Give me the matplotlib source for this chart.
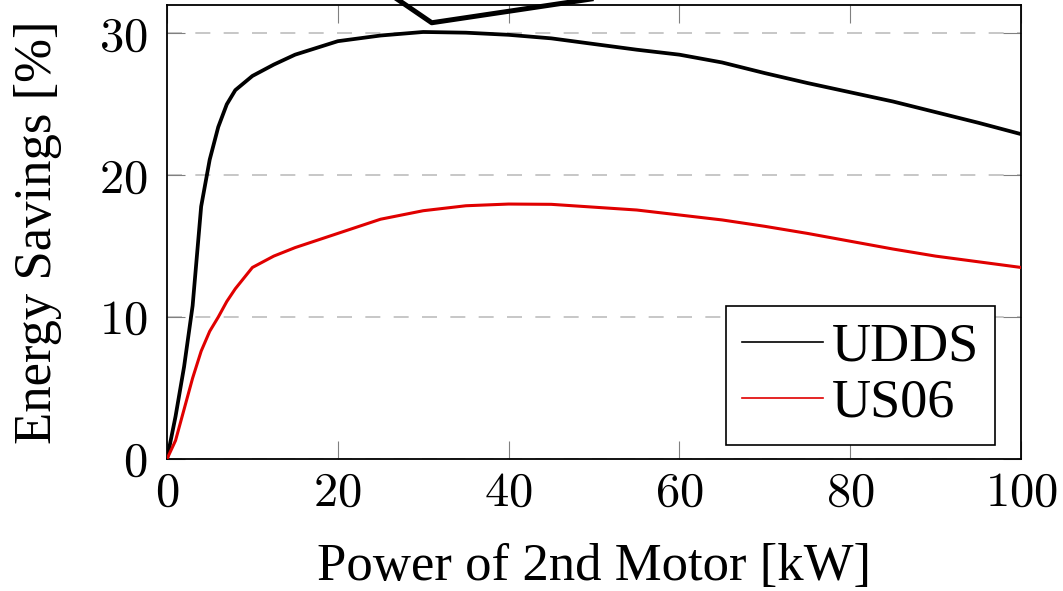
import matplotlib
matplotlib.use('Agg')
import matplotlib.pyplot as plt
from matplotlib.ticker import FuncFormatter

# ----------------------------------------------------- DADOS
power_kw = [0, 1, 2, 3, 4, 5, 6, 7, 8, 10, 12.5, 15, 20, 25, 30, 35, 40, 45, 50,
            55, 60, 65, 70, 75, 80, 85, 90, 95, 100]
udds = [0, 3.0, 6.5, 10.8, 17.8, 21.1, 23.4, 25.0, 26.0, 27.0, 27.8, 28.5, 29.45,
        29.85, 30.1, 30.05, 29.9, 29.65, 29.25, 28.85, 28.5, 27.95, 27.2, 26.5,
        25.85, 25.2, 24.45, 23.7, 22.9]
us06 = [0, 1.3, 3.5, 5.7, 7.6, 9.0, 10.0, 11.1, 12.0, 13.5, 14.3, 14.9, 15.9,
        16.9, 17.5, 17.85, 17.97, 17.95, 17.75, 17.55, 17.2, 16.85, 16.4, 15.9,
        15.35, 14.8, 14.3, 13.9, 13.5]
x_ticks = [0, 20, 40, 60, 80, 100]
y_ticks = [0, 10, 20, 30]

# linha do callout cortado no topo
callout_x = [23.1, 31.0, 67.2]
callout_y = [34.0, 30.75, 34.0]

plt.rcParams['font.family'] = ['Liberation Serif', 'DejaVu Serif']
plt.rcParams['mathtext.fontset'] = 'cm'

fig = plt.figure(figsize=(10.63, 5.91), dpi=100)
ax = fig.add_axes([0.1571, 0.2234, 0.8034, 0.7681])

ax.plot(power_kw, udds, color='black', lw=2.7, label='UDDS', zorder=3)
ax.plot(power_kw, us06, color='#e00000', lw=2.2, label='US06', zorder=3)
ax.plot(callout_x, callout_y, color='black', lw=3.6, clip_on=False, zorder=4)

ax.set_xlim(0, 100)
ax.set_ylim(0, 32)
ax.set_xticks(x_ticks)
ax.set_yticks(y_ticks)
fmt = FuncFormatter(lambda v, p: r'$%d$' % v)
ax.xaxis.set_major_formatter(fmt)
ax.yaxis.set_major_formatter(fmt)
ax.tick_params(direction='in', top=True, right=True, length=13, width=0.8,
               color='#808080', labelsize=35)
ax.tick_params(axis='x', pad=9)
ax.tick_params(axis='y', pad=14)

ax.yaxis.grid(True, color='#bdbdbd', lw=1.2, linestyle=(0, (9, 8)))
ax.set_axisbelow(True)
for s in ax.spines.values():
    s.set_linewidth(1.3)

ax.set_xlabel('Power of 2nd Motor [kW]', fontsize=38, labelpad=20)
ax.set_ylabel('Energy Savings [%]', fontsize=38)
ax.yaxis.set_label_coords(-0.123, 0.5)

leg = ax.legend(loc='lower right', bbox_to_anchor=(0.9696, 0.031), fontsize=39,
                fancybox=False, framealpha=1, edgecolor='black',
                handlelength=1.5, handletextpad=0.15, labelspacing=0.1,
                borderpad=0.3, borderaxespad=0)
leg.get_frame().set_linewidth(1.2)
for h in leg.get_lines():
    h.set_linewidth(1.2)

plt.savefig('out.png', dpi=100)
